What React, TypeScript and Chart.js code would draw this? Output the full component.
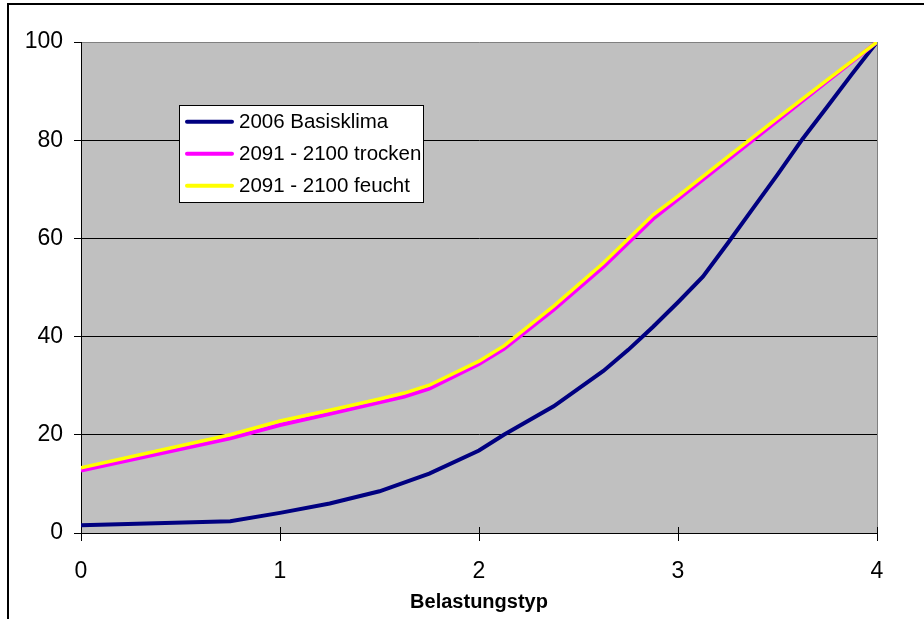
import React, { useEffect, useRef } from 'react';
import { Chart, registerables } from 'chart.js';

Chart.register(...registerables);

// Data
const seriesLabels = ['2006 Basisklima', '2091 - 2100 trocken', '2091 - 2100 feucht'];
const seriesColors = ['#000080', '#FF00FF', '#FFFF00'];

const basisX = [0, 0.75, 1, 1.25, 1.5, 1.75, 2, 2.125, 2.375, 2.625, 2.75, 2.875, 3, 3.125, 3.25, 3.375, 3.5, 3.625, 3.75, 3.875, 4];
const basisY = [1.6, 2.4, 4.1, 6.0, 8.5, 12.1, 16.8, 20.0, 25.8, 33.0, 37.3, 42.0, 47.0, 52.2, 59.0, 66.0, 73.0, 80.2, 86.8, 93.5, 100];

const klimaX = [0, 0.75, 1, 1.25, 1.5, 1.625, 1.75, 2, 2.125, 2.375, 2.625, 2.875, 3, 3.25, 3.5, 3.75, 4];
const trockenY = [12.7, 19.3, 22.0, 24.3, 26.6, 27.8, 29.4, 34.4, 37.5, 45.5, 54.2, 64.0, 68.0, 76.0, 84.0, 92.0, 100];
const feuchtY = [13.3, 20.0, 22.8, 25.0, 27.3, 28.5, 30.1, 35.0, 38.1, 46.2, 55.0, 64.8, 68.6, 76.6, 84.5, 92.3, 100];

const xTicks = [0, 1, 2, 3, 4];
const yTicks = [0, 20, 40, 60, 80, 100];
const xTitle = 'Belastungstyp';

const FONT = 'Arial, "Liberation Sans", sans-serif';

const toPoints = (xs: number[], ys: number[]) => xs.map((x, i) => ({ x, y: ys[i] }));

const framePlugin = {
  id: 'frame',
  beforeDraw(chart: any) {
    const { ctx, chartArea } = chart;
    ctx.save();
    ctx.fillStyle = '#ffffff';
    ctx.fillRect(0, 0, chart.width, chart.height);
    ctx.fillStyle = '#C0C0C0';
    ctx.fillRect(chartArea.left, chartArea.top, chartArea.right - chartArea.left, chartArea.bottom - chartArea.top);
    // outer border
    ctx.fillStyle = '#000000';
    ctx.fillRect(7, 3, 2, chart.height);
    ctx.fillRect(7, 3, chart.width, 2);
    ctx.restore();
  },
  beforeDatasetsDraw(chart: any) {
    const { ctx, chartArea, scales } = chart;
    ctx.save();
    ctx.strokeStyle = '#808080';
    ctx.lineWidth = 1;
    ctx.beginPath();
    ctx.moveTo(chartArea.right + 0.5, chartArea.top);
    ctx.lineTo(chartArea.right + 0.5, chartArea.bottom);
    ctx.stroke();
    // inner part of crossing x ticks
    ctx.strokeStyle = '#000000';
    xTicks.forEach((v) => {
      const px = Math.round(scales.x.getPixelForValue(v)) + 0.5;
      ctx.beginPath();
      ctx.moveTo(px, chartArea.bottom - 6);
      ctx.lineTo(px, chartArea.bottom);
      ctx.stroke();
    });
    ctx.restore();
  },
  afterDraw(chart: any) {
    const { ctx } = chart;
    ctx.save();
    ctx.fillStyle = '#ffffff';
    ctx.fillRect(179.5, 105.5, 244, 97);
    ctx.strokeStyle = '#000000';
    ctx.lineWidth = 1;
    ctx.strokeRect(179.5, 105.5, 244, 97);
    ctx.font = `20.5px ${FONT}`;
    ctx.textBaseline = 'middle';
    ctx.textAlign = 'left';
    seriesLabels.forEach((label, i) => {
      const y = 121.7 + i * 32;
      ctx.strokeStyle = seriesColors[i];
      ctx.lineWidth = 4;
      ctx.lineCap = 'round';
      ctx.beginPath();
      ctx.moveTo(187, y);
      ctx.lineTo(232, y);
      ctx.stroke();
      ctx.fillStyle = '#000000';
      ctx.fillText(label, 239, y + 1);
    });
    ctx.restore();
  },
};

export default function App() {
  const canvasRef = useRef<HTMLCanvasElement | null>(null);

  useEffect(() => {
    if (!canvasRef.current) return;
    const chart = new Chart(canvasRef.current, {
      type: 'scatter',
      data: {
        datasets: [
          {
            label: seriesLabels[0],
            data: toPoints(basisX, basisY),
            borderColor: seriesColors[0],
            backgroundColor: seriesColors[0],
            borderWidth: 4,
            showLine: true,
            pointRadius: 0,
            order: 3,
          },
          {
            label: seriesLabels[1],
            data: toPoints(klimaX, trockenY),
            borderColor: seriesColors[1],
            backgroundColor: seriesColors[1],
            borderWidth: 4,
            showLine: true,
            pointRadius: 0,
            order: 2,
          },
          {
            label: seriesLabels[2],
            data: toPoints(klimaX, feuchtY),
            borderColor: seriesColors[2],
            backgroundColor: seriesColors[2],
            borderWidth: 3.5,
            showLine: true,
            pointRadius: 0,
            order: 1,
          },
        ],
      },
      options: {
        responsive: false,
        maintainAspectRatio: false,
        animation: false,
        layout: { padding: { left: 0, right: 47, top: 42, bottom: 0 } },
        plugins: {
          legend: { display: false },
          tooltip: { enabled: false },
          title: { display: false },
        },
        scales: {
          x: {
            type: 'linear',
            min: 0,
            max: 4,
            afterBuildTicks: (scale: any) => {
              scale.ticks = xTicks.map((v) => ({ value: v }));
            },
            afterFit: (scale: any) => {
              scale.height = 86;
            },
            ticks: {
              color: '#000000',
              font: { family: FONT, size: 23 },
              padding: 17,
              maxRotation: 0,
              autoSkip: false,
            },
            grid: {
              drawOnChartArea: false,
              drawTicks: true,
              tickLength: 8,
              tickColor: '#000000',
              color: '#000000',
            },
            border: { display: true, color: '#000000', width: 1 },
            title: {
              display: true,
              text: xTitle,
              color: '#000000',
              font: { family: FONT, size: 20, weight: 'bold' },
              padding: { top: 0, bottom: 5 },
            },
          },
          y: {
            type: 'linear',
            min: 0,
            max: 100,
            afterBuildTicks: (scale: any) => {
              scale.ticks = yTicks.map((v) => ({ value: v }));
            },
            afterFit: (scale: any) => {
              scale.width = 81;
            },
            ticks: {
              color: '#000000',
              font: { family: FONT, size: 23 },
              padding: 11,
            },
            grid: {
              color: (c: any) => (c.tick && c.tick.value === 100 ? '#808080' : '#000000'),
              tickColor: '#000000',
              tickLength: 7,
              lineWidth: 1,
            },
            border: { display: true, color: '#000000', width: 1 },
          },
        },
      },
      plugins: [framePlugin],
    });
    return () => chart.destroy();
  }, []);

  return (
    <div style={{ position: 'absolute', left: 0, top: 0, width: 924, height: 619, background: '#fff' }}>
      <canvas ref={canvasRef} width={924} height={619} />
    </div>
  );
}
